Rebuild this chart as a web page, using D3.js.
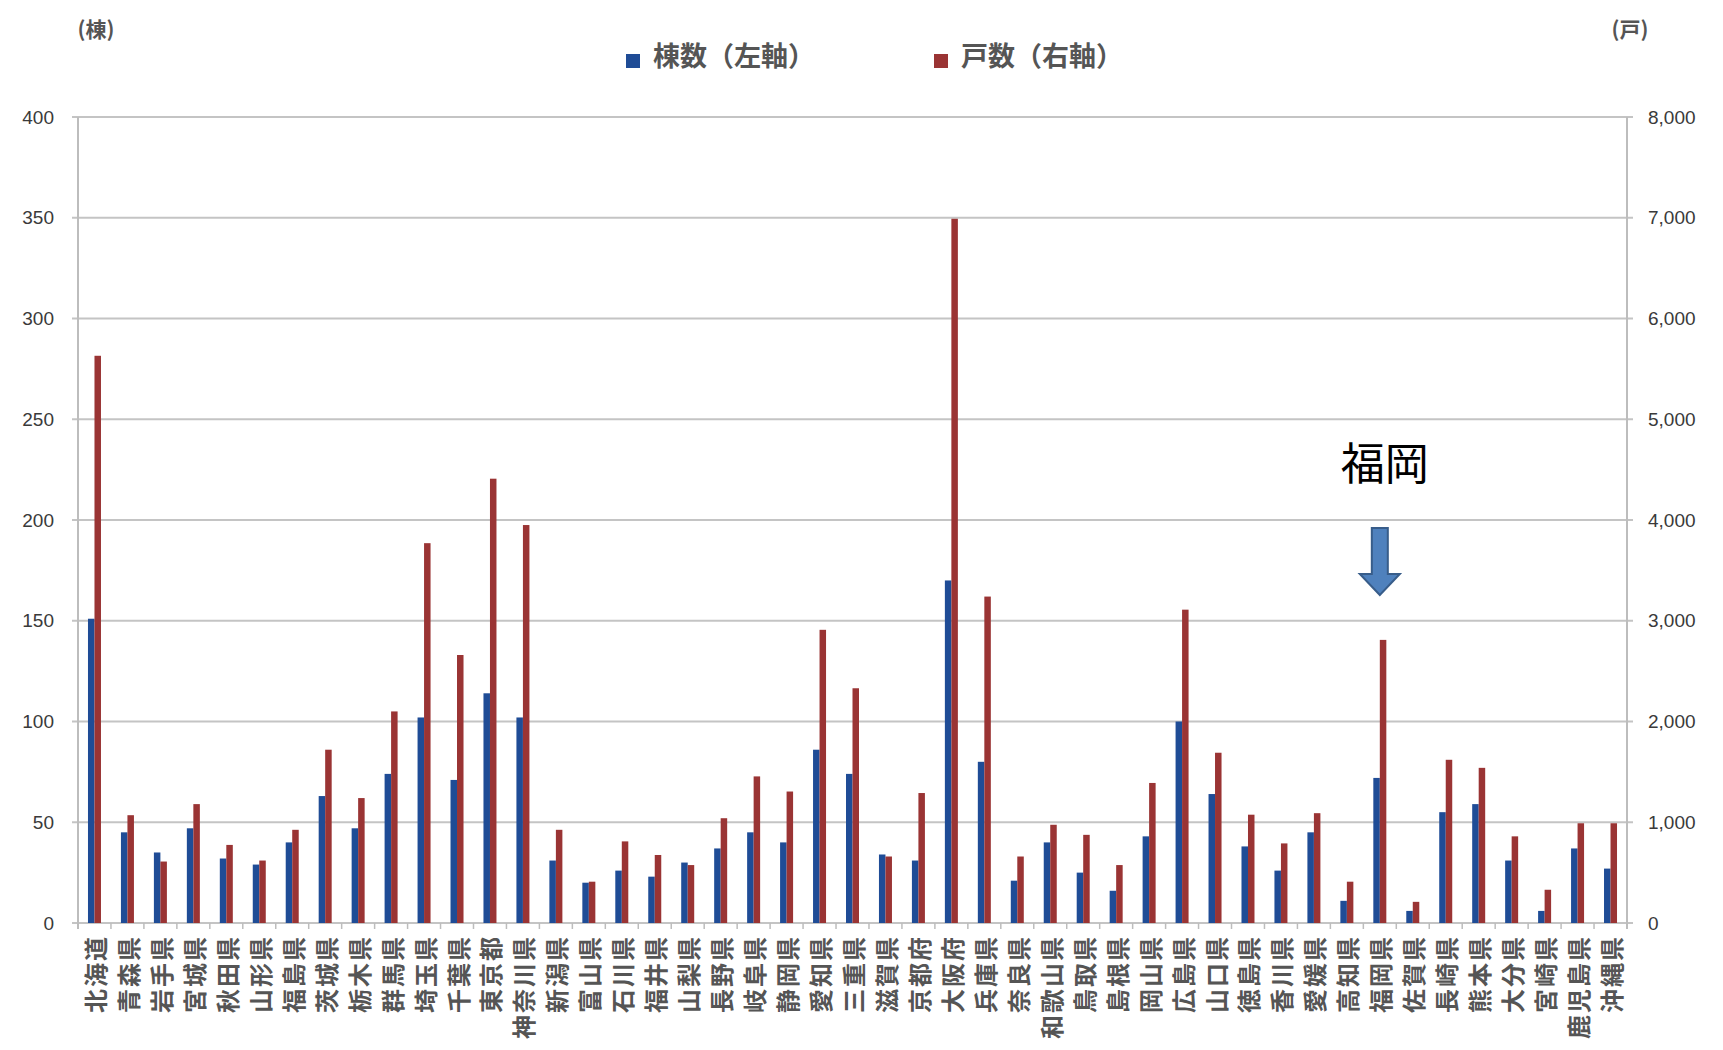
<!DOCTYPE html>
<html><head><meta charset="utf-8">
<script src="https://cdn.jsdelivr.net/npm/d3@7"></script>
<style>
html,body{margin:0;padding:0;background:#fff;}
svg{display:block;font-family:"Noto Sans CJK JP","Noto Sans",sans-serif;}
</style></head>
<body>
<svg id="chart" width="1723" height="1050"></svg>
<script>
const prefectures = ["北海道","青森県","岩手県","宮城県","秋田県","山形県","福島県","茨城県","栃木県","群馬県","埼玉県","千葉県","東京都","神奈川県","新潟県","富山県","石川県","福井県","山梨県","長野県","岐阜県","静岡県","愛知県","三重県","滋賀県","京都府","大阪府","兵庫県","奈良県","和歌山県","鳥取県","島根県","岡山県","広島県","山口県","徳島県","香川県","愛媛県","高知県","福岡県","佐賀県","長崎県","熊本県","大分県","宮崎県","鹿児島県","沖縄県"];
const buildings = [151,45,35,47,32,29,40,63,47,74,102,71,114,102,31,20,26,23,30,37,45,40,86,74,34,31,170,80,21,40,25,16,43,100,64,38,26,45,11,72,6,55,59,31,6,37,27];
const units = [5630,1070,610,1180,775,620,925,1720,1240,2100,3770,2660,4410,3950,925,410,810,675,575,1040,1455,1305,2910,2330,660,1290,6990,3240,660,975,875,575,1390,3110,1690,1075,790,1090,410,2810,210,1620,1540,860,330,990,990];
const leftTicks = [0,50,100,150,200,250,300,350,400];
const rightTicks = [0,1000,2000,3000,4000,5000,6000,7000,8000];
const seriesNames = ["棟数（左軸）","戸数（右軸）"];
const seriesColors = ["#1F4C96","#9A3434"];
const leftUnit = "(棟)";
const rightUnit = "(戸)";
const annotation = "福岡";
const annotatedPref = "福岡県";

const svg = d3.select("#chart");
const m = {left:78, right:1627, top:117, bottom:923};

const x = d3.scaleBand().domain(prefectures).range([m.left, m.right]).padding(0);
const xs = d3.scaleBand().domain([0,1]).range([x.bandwidth()/2-6.5, x.bandwidth()/2+6.5]).padding(0);
const yL = d3.scaleLinear().domain([0,400]).range([m.bottom, m.top]);
const yR = d3.scaleLinear().domain([0,8000]).range([m.bottom, m.top]);

// gridlines
svg.append("g").selectAll("line").data(leftTicks).join("line")
  .attr("x1", m.left-6).attr("x2", m.right+6)
  .attr("y1", d=>yL(d)).attr("y2", d=>yL(d))
  .attr("stroke","#C4C4C4").attr("stroke-width",2.2);

// axis verticals
svg.append("line").attr("x1",m.left).attr("x2",m.left).attr("y1",m.top).attr("y2",m.bottom+6)
  .attr("stroke","#BDBDBD").attr("stroke-width",2);
svg.append("line").attr("x1",m.right).attr("x2",m.right).attr("y1",m.top).attr("y2",m.bottom+6)
  .attr("stroke","#BDBDBD").attr("stroke-width",2);

// x tick marks
svg.append("g").selectAll("line").data(prefectures).join("line")
  .attr("x1", d=>x(d)).attr("x2", d=>x(d))
  .attr("y1", m.bottom).attr("y2", m.bottom+6)
  .attr("stroke","#BDBDBD").attr("stroke-width",1.5);

// left tick labels
svg.append("g").selectAll("text").data(leftTicks).join("text")
  .attr("x", m.left-24).attr("y", d=>yL(d)).attr("dy","0.35em")
  .attr("text-anchor","end").attr("font-size",19).attr("fill","#3a3a3a")
  .attr("font-family","'Liberation Sans',Arial,sans-serif")
  .text(d=>d);

// right tick labels
svg.append("g").selectAll("text").data(rightTicks).join("text")
  .attr("x", m.right+21).attr("y", d=>yR(d)).attr("dy","0.35em")
  .attr("text-anchor","start").attr("font-size",19).attr("fill","#3a3a3a")
  .attr("font-family","'Liberation Sans',Arial,sans-serif")
  .text(d=>d3.format(",")(d));

// bars
const g = svg.append("g");
g.selectAll("rect.b").data(prefectures).join("rect").attr("class","b")
  .attr("x", d=>x(d)+xs(0)).attr("width", xs.bandwidth())
  .attr("y", (d,i)=>yL(buildings[i])).attr("height",(d,i)=>yL(0)-yL(buildings[i]))
  .attr("fill", seriesColors[0]);
g.selectAll("rect.r").data(prefectures).join("rect").attr("class","r")
  .attr("x", d=>x(d)+xs(1)).attr("width", xs.bandwidth())
  .attr("y", (d,i)=>yR(units[i])).attr("height",(d,i)=>yR(0)-yR(units[i]))
  .attr("fill", seriesColors[1]);

// x labels (rotated)
svg.append("g").selectAll("text").data(prefectures).join("text")
  .attr("transform", d=>`translate(${x(d)+x.bandwidth()/2},${m.bottom+12}) rotate(-90)`)
  .attr("text-anchor","end").attr("dominant-baseline","central")
  .attr("font-size",24).attr("font-weight","bold").attr("fill","#555")
  .attr("letter-spacing","2px")
  .text(d=>d);

// unit labels
svg.append("text").attr("x",96).attr("y",30).attr("dy","0.35em").attr("text-anchor","middle")
  .attr("font-size",21).attr("font-weight","bold").attr("fill","#555").text(leftUnit);
svg.append("text").attr("x",1630).attr("y",30).attr("dy","0.35em").attr("text-anchor","middle")
  .attr("font-size",21).attr("font-weight","bold").attr("fill","#555").text(rightUnit);

// legend
const legendX = [626, 934];
const leg = svg.append("g").selectAll("g").data(seriesNames).join("g")
  .attr("transform",(d,i)=>`translate(${legendX[i]},0)`);
leg.append("rect").attr("x",0).attr("y",54).attr("width",14).attr("height",14)
  .attr("fill",(d,i)=>seriesColors[i]);
leg.append("text").attr("x",27).attr("y",57).attr("dy","0.35em")
  .attr("font-size",27).attr("font-weight","bold").attr("fill","#555").text(d=>d);

// annotation
const ax = x(annotatedPref) + x.bandwidth()/2;
svg.append("text").attr("x", ax+5).attr("y", 465).attr("dy","0.35em").attr("text-anchor","middle")
  .attr("font-size",44).attr("fill","#000").text(annotation);
const arrow = d3.path();
arrow.moveTo(ax-8, 528); arrow.lineTo(ax+8, 528); arrow.lineTo(ax+8, 574);
arrow.lineTo(ax+20, 574); arrow.lineTo(ax, 595); arrow.lineTo(ax-20, 574);
arrow.lineTo(ax-8, 574); arrow.closePath();
svg.append("path").attr("d", arrow.toString()).attr("fill","#4F81BD")
  .attr("stroke","#385D8A").attr("stroke-width",2);
</script>
</body></html>
